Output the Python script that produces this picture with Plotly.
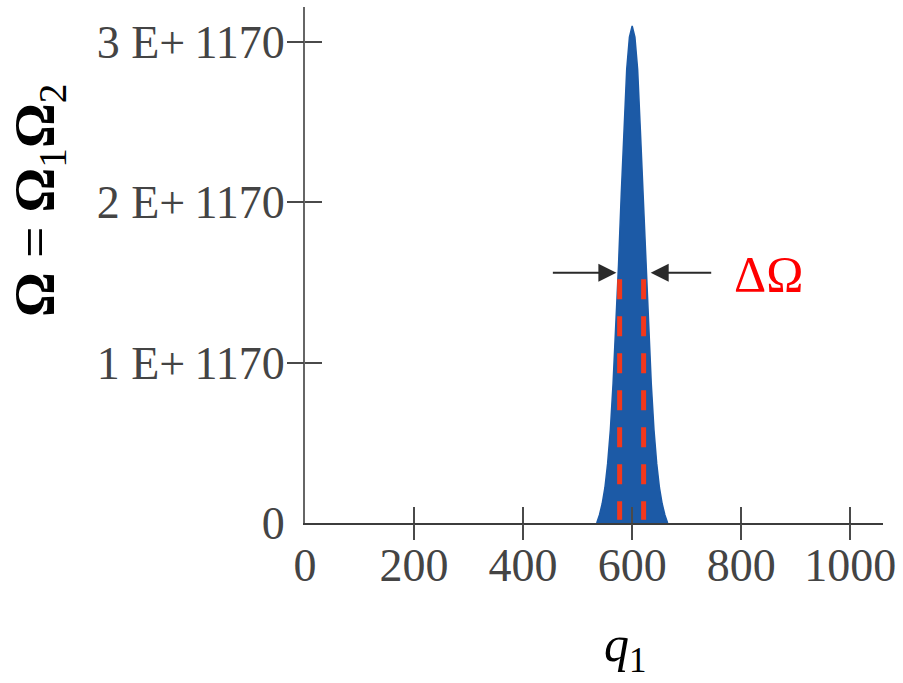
import plotly.graph_objects as go

# ---- data ----
q_vals = [535, 540, 545, 550, 555, 560, 565, 570, 575, 580, 585, 590, 595,
          600, 605, 610, 615, 620, 625, 630, 635, 640, 645, 650, 655, 660, 665]
omega_vals = [0.0, 0.05, 0.12, 0.22, 0.37, 0.58, 0.87, 1.21, 1.61, 2.05, 2.45, 2.83, 3.03,
              3.10, 3.03, 2.83, 2.45, 2.05, 1.61, 1.21, 0.87, 0.58, 0.37, 0.22, 0.12, 0.05, 0.0]

x_tick_vals = [0, 200, 400, 600, 800, 1000]
x_tick_text = ["0", "200", "400", "600", "800", "1000"]
y_tick_vals = [0, 1, 2, 3]
y_tick_text = ["0", "1 E+\u20091170", "2 E+\u20091170", "3 E+\u20091170"]

fwhm_q = [577, 621]          # dashed red lines
fwhm_y = [1.52, 0.02]        # top / bottom of dashed lines
arrow_heads_q = [571, 634]   # tips of the arrows
arrow_y = 1.56
label_pos = [850, 1.55]

x_range = [0, 1060]
y_range = [0, 3.218]

FONT = "Liberation Serif, Times New Roman, serif"
AXC = "#4a4a4a"

fig = go.Figure()

fig.add_trace(go.Scatter(
    x=q_vals, y=omega_vals, mode="lines", fill="tozeroy",
    fillcolor="#1c5aa6", line=dict(color="#1c5aa6", width=1.5),
    hoverinfo="skip", showlegend=False))

for qx in fwhm_q:
    fig.add_trace(go.Scatter(
        x=[qx, qx], y=fwhm_y, mode="lines",
        line=dict(color="#f3381c", width=5, dash="20px,17px"),
        hoverinfo="skip", showlegend=False))

# invisible traces to activate the overlay tick axes
for xa, ya in (("x2", "y2"), ("x3", "y3")):
    fig.add_trace(go.Scatter(x=q_vals, y=omega_vals, xaxis=xa, yaxis=ya, mode="lines",
                             line=dict(width=0, color="rgba(0,0,0,0)"),
                             hoverinfo="skip", showlegend=False))

tickfont = dict(family=FONT, size=46, color="#444444")

fig.update_layout(
    width=903, height=683,
    margin=dict(l=305, r=18, t=7, b=160),
    paper_bgcolor="white", plot_bgcolor="white",
    xaxis=dict(range=x_range, tickvals=x_tick_vals, ticktext=x_tick_text,
               ticks="outside", ticklen=1, tickcolor="rgba(0,0,0,0)",
               showline=True, linecolor="#3c3c3c", linewidth=2,
               showgrid=False, zeroline=False, tickfont=tickfont, fixedrange=True),
    yaxis=dict(range=y_range, tickvals=y_tick_vals, ticktext=y_tick_text,
               ticks="outside", ticklen=9, tickcolor="rgba(0,0,0,0)",
               showline=True, linecolor="#666666", linewidth=2,
               showgrid=False, zeroline=False, tickfont=tickfont, fixedrange=True),
    xaxis2=dict(range=x_range, overlaying="x", anchor="y2", tickvals=x_tick_vals[1:],
                ticks="outside", ticklen=16, tickwidth=2, tickcolor=AXC,
                showticklabels=False, showline=False, showgrid=False, zeroline=False),
    yaxis2=dict(range=y_range, overlaying="y", anchor="x2", tickvals=y_tick_vals[1:],
                ticks="outside", ticklen=17, tickwidth=2, tickcolor=AXC,
                showticklabels=False, showline=False, showgrid=False, zeroline=False),
    xaxis3=dict(range=x_range, overlaying="x", anchor="y3", tickvals=x_tick_vals[1:],
                ticks="inside", ticklen=16, tickwidth=2, tickcolor=AXC,
                showticklabels=False, showline=False, showgrid=False, zeroline=False),
    yaxis3=dict(range=y_range, overlaying="y", anchor="x3", tickvals=y_tick_vals[1:],
                ticks="inside", ticklen=17, tickwidth=2, tickcolor=AXC,
                showticklabels=False, showline=False, showgrid=False, zeroline=False),
    showlegend=False,
)

# arrows
fig.add_annotation(x=arrow_heads_q[0], y=arrow_y, xref="x", yref="y", ax=-65, ay=0,
                   showarrow=True, arrowhead=2, arrowsize=1.8, arrowwidth=2,
                   arrowcolor="#2a2a2a", text="")
fig.add_annotation(x=arrow_heads_q[1], y=arrow_y, xref="x", yref="y", ax=62, ay=0,
                   showarrow=True, arrowhead=2, arrowsize=1.8, arrowwidth=2,
                   arrowcolor="#2a2a2a", text="")

# ΔΩ label
fig.add_annotation(x=label_pos[0], y=label_pos[1], xref="x", yref="y", showarrow=False,
                   xanchor="center", yanchor="middle",
                   text="ΔΩ", font=dict(family=FONT, size=50, color="#ff0000"))

# axis titles
fig.add_annotation(x=(38 - 305) / 580, y=(523 - 200) / 516, xref="paper", yref="paper",
                   showarrow=False, textangle=-90, xanchor="center", yanchor="middle",
                   text="<b>Ω</b> = <b>Ω</b><sub>1</sub><b>Ω</b><sub>2</sub>",
                   font=dict(family=FONT, size=56, color="black"))
fig.add_annotation(x=(627 - 305) / 580, y=-(648 - 523) / 516, xref="paper", yref="paper",
                   showarrow=False, xanchor="center", yanchor="middle",
                   text="<i>q</i><sub>1</sub>",
                   font=dict(family=FONT, size=50, color="black"))

fig.write_html("out.html", config={"displayModeBar": False})
